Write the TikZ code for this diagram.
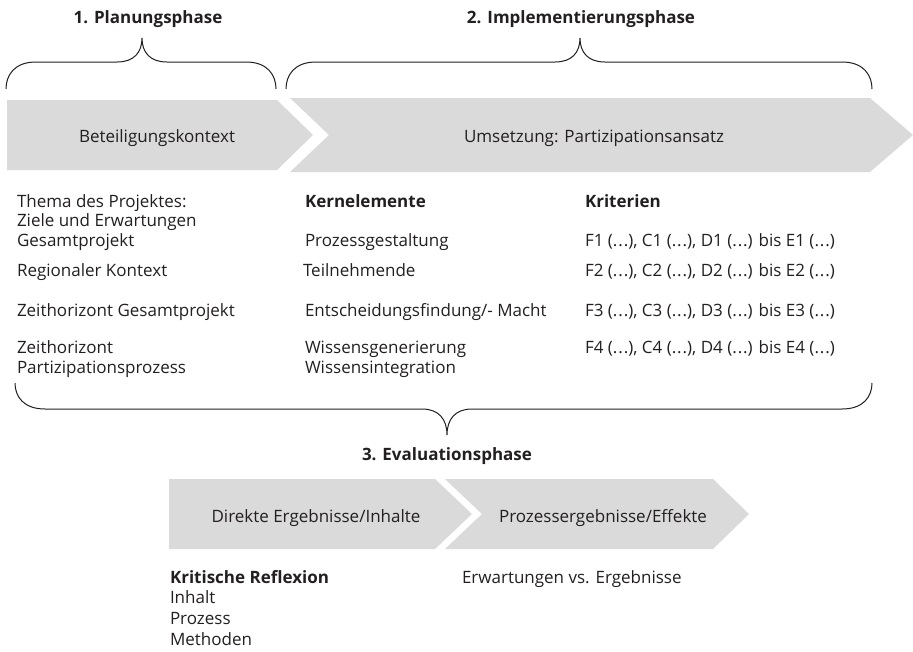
\documentclass[tikz,border=0pt]{standalone}
\usepackage{fontspec}
\setmainfont{Open Sans}
\definecolor{chev}{RGB}{218,218,218}
\definecolor{ink}{RGB}{35,31,32}

% curly brace: left x, right x, tip x, end y, bar y, tip y
\newcommand{\phasebrace}[6]{%
  \draw[bracestyle] (#1,#4)
    .. controls (#1,{#5+0.5*(#4-#5)}) and ({#1+8},#5) .. ({#1+30},#5)
    -- ({#3-25},#5)
    .. controls ({#3-8},#5) and (#3,{#5+0.4*(#6-#5)}) .. (#3,#6)
    .. controls (#3,{#5+0.4*(#6-#5)}) and ({#3+8},#5) .. ({#3+25},#5)
    -- ({#2-30},#5)
    .. controls ({#2-8},#5) and (#2,{#5+0.5*(#4-#5)}) .. (#2,#4);}

% parenthesised, evenly spread ellipsis
\newcommand{\elided}{(.\kern0.9pt.\kern0.9pt.)}

\begin{document}
\begin{tikzpicture}[x=1pt,y=-1pt,
  chevron/.style={fill=chev, draw=none},
  bracestyle/.style={draw=ink, line width=1pt},
  txt/.style={inner sep=0pt, outer sep=0pt, text=ink, font=\fontsize{17}{20}\selectfont},
  head/.style={txt, font=\fontsize{17}{20}\selectfont\bfseries},
  col/.style={txt, anchor=base west},
  colhead/.style={col, font=\fontsize{17}{20}\selectfont\bfseries},
]
\useasboundingbox (0,0) rectangle (913,651);

% phase headings
\node[head, anchor=base] (plan) at (148,23) {1. Planungsphase};
\node[head, anchor=base] (impl) at (581,23) {2. Implementierungsphase};
\node[head, anchor=base] (eval) at (447,460) {3. Evaluationsphase};

% braces
\phasebrace{6}{276}{142}{89}{62}{38}
\phasebrace{286}{872}{580}{89}{62}{38}
\phasebrace{15}{872}{447}{383}{409}{435}

% process chevrons
\fill[chevron] (7,100) -- (277,100) -- (313,135) -- (277,170) -- (7,170) -- cycle;
\fill[chevron] (290,98) -- (870,98) -- (913,135) -- (870,172) -- (290,172) -- (329,135) -- cycle;
\fill[chevron] (169,479) -- (435,479) -- (472,514) -- (435,549) -- (169,549) -- cycle;
\fill[chevron] (445,479) -- (713,479) -- (749,514) -- (713,549) -- (445,549) -- (482,514) -- cycle;

\node[txt, anchor=base] (kontext) at (157,142) {Beteiligungskontext};
\node[txt, anchor=base] (ansatz) at (594,142) {Umsetzung: Partizipationsansatz};
\node[txt, anchor=base] (direkt) at (316,522) {Direkte Ergebnisse/Inhalte};
\node[txt, anchor=base] (effekte) at (603,522) {Prozessergebnisse/Effekte};

% planning column
\node[col] (thema) at (17,207) {Thema des Projektes:};
\node[col] (ziele) at (17,226) {Ziele und Erwartungen};
\node[col] (gesamt) at (17,246) {Gesamtprojekt};
\node[col] (region) at (17,276) {Regionaler Kontext};
\node[col] (zhg) at (17,316) {Zeithorizont Gesamtprojekt};
\node[col] (zh) at (17,353) {Zeithorizont};
\node[col] (zhp) at (17,373) {Partizipationsprozess};

% core elements
\node[colhead] (kern) at (305,207) {Kernelemente};
\node[col] (prozg) at (305,246) {Prozessgestaltung};
\node[col] (teil) at (303,276) {Teilnehmende};
\node[col] (entsch) at (305,316) {Entscheidungsfindung/- Macht};
\node[col] (wgen) at (305,353) {Wissensgenerierung};
\node[col] (wint) at (305,373) {Wissensintegration};

% criteria
\node[colhead] (krit) at (585,207) {Kriterien};
\node[col] (f1) at (585,246) {F1 \elided, C1 \elided, D1 \elided{} bis E1 \elided};
\node[col] (f2) at (585,276) {F2 \elided, C2 \elided, D2 \elided{} bis E2 \elided};
\node[col] (f3) at (585,316) {F3 \elided, C3 \elided, D3 \elided{} bis E3 \elided};
\node[col] (f4) at (585,353) {F4 \elided, C4 \elided, D4 \elided{} bis E4 \elided};

% evaluation
\node[colhead] (refl) at (170,583) {Kritische Reflexion};
\node[col] (inhalt) at (170,603) {Inhalt};
\node[col] (prozess) at (170,624) {Prozess};
\node[col] (methoden) at (170,645) {Methoden};
\node[col] (erw) at (462,583) {Erwartungen vs. Ergebnisse};
\end{tikzpicture}
\end{document}
